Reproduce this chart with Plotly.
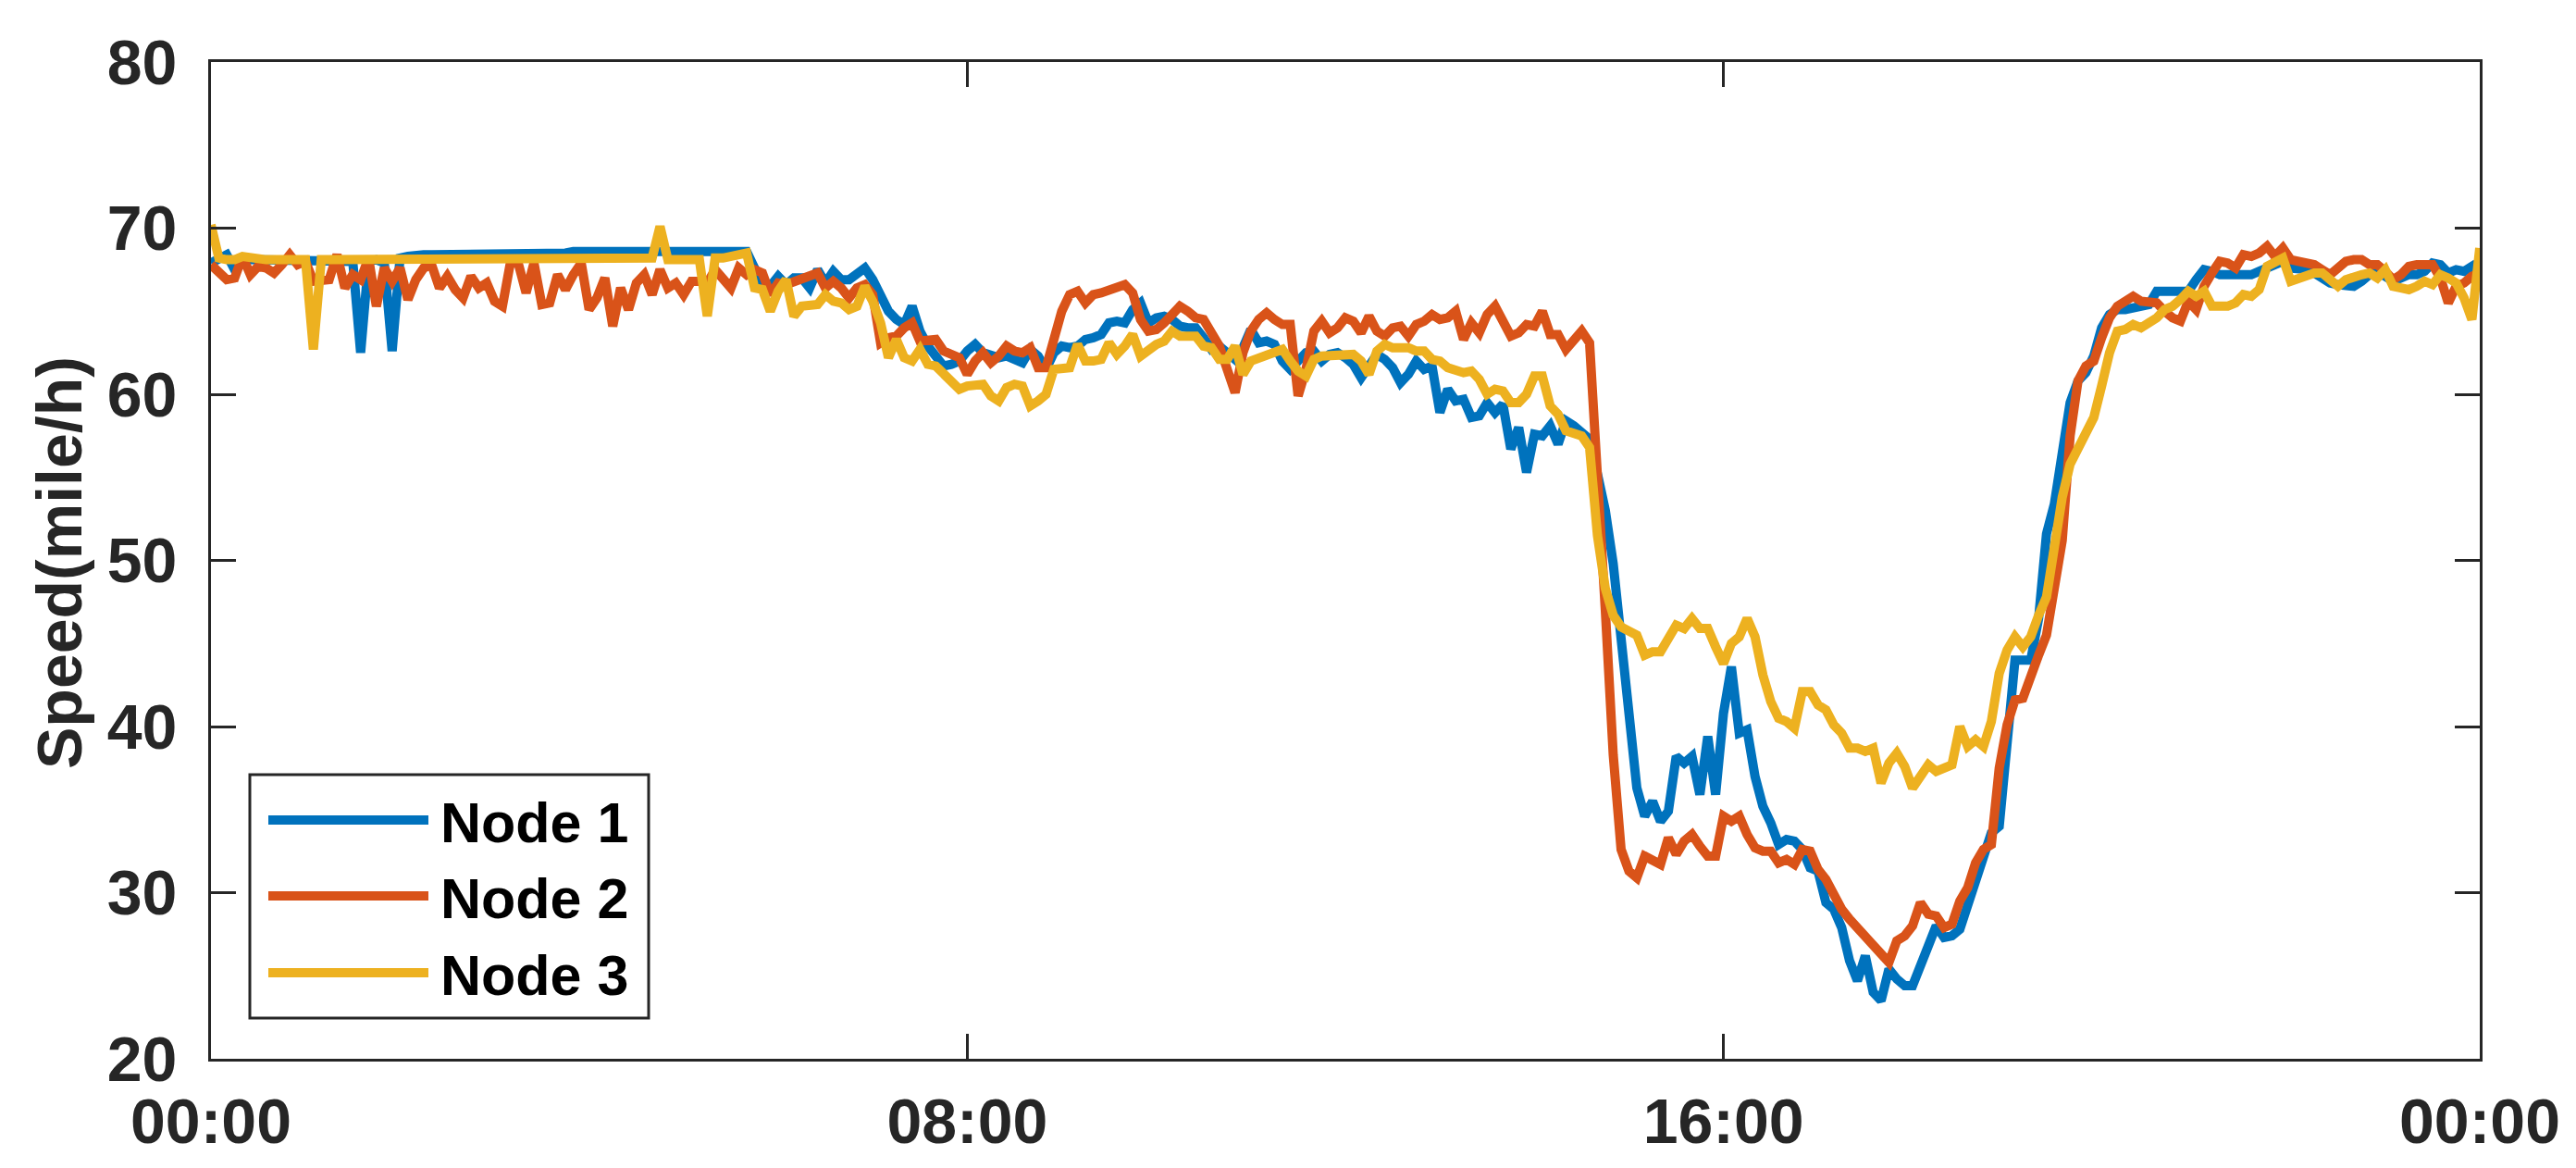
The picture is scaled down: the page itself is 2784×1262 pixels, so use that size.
import plotly.graph_objects as go

# ---------------- data (5-minute samples over one day, 289 points) ----------------
STEP_MIN = 5

node1 = [
    67.9, 68.2, 68.4, 67.5, 68.1, 68.1, 68.1, 68.1, 68.1, 68.1, 68.1, 68.1,
    68.1, 68.1, 68.1, 68.1, 68.1, 68.1, 68.0, 62.5, 68.0, 68.1, 67.9, 62.6,
    68.2, 68.3, 68.4, 68.4, 68.4, 68.4, 68.4, 68.4, 68.4, 68.4, 68.5, 68.5,
    68.5, 68.5, 68.5, 68.5, 68.5, 68.5, 68.5, 68.5, 68.5, 68.5, 68.6, 68.6,
    68.6, 68.6, 68.6, 68.6, 68.6, 68.6, 68.6, 68.6, 68.6, 68.6, 68.6, 68.6,
    68.6, 68.7, 68.6, 68.6, 68.6, 68.6, 68.6, 68.6, 68.6, 67.6, 66.7, 66.5,
    67.1, 66.6, 67.0, 67.0, 66.4, 67.5, 66.7, 67.4, 66.9, 66.9, 67.2, 67.6,
    66.9, 65.8, 65.0, 64.5, 64.2, 65.3, 63.8, 62.9, 62.4, 61.7, 61.8, 62.0,
    62.6, 63.0, 62.5, 62.3, 62.2, 62.3, 62.1, 61.9, 62.7, 62.3, 61.5, 62.5,
    62.9, 62.8, 62.9, 63.3, 63.4, 63.6, 64.3, 64.4, 64.3, 65.1, 65.5, 64.3,
    64.6, 64.7, 64.5, 64.1, 64.0, 64.0, 63.4, 62.7, 62.9, 62.4, 62.1, 62.8,
    63.9, 63.1, 63.2, 63.0, 62.0, 61.5, 62.0, 62.5, 62.6, 62.0, 62.4, 62.5,
    62.2, 61.8, 61.0, 61.8, 62.4, 62.1, 61.6, 60.7, 61.2, 62.0, 61.5, 61.7,
    58.9, 60.3, 59.6, 59.7, 58.6, 58.7, 59.5, 58.9, 59.4, 56.7, 58.0, 55.3,
    57.6, 57.5, 58.1, 57.0, 58.4, 58.1, 57.6, 57.3, 55.2, 53.0, 49.8, 45.3,
    40.8, 36.3, 34.6, 35.5, 34.3, 34.9, 38.2, 37.8, 38.2, 35.9, 39.4, 35.9,
    40.8, 43.6, 39.6, 39.8, 37.0, 35.2, 34.2, 32.9, 33.2, 33.1, 32.6, 31.5,
    31.3, 29.4, 29.0, 27.9, 25.9, 24.7, 26.2, 24.0, 23.5, 25.4, 24.8, 24.4,
    24.4, 25.6, 27.0, 28.0, 27.3, 27.4, 27.8, 29.2, 30.5, 32.1, 33.6, 34.0,
    39.0, 44.0, 44.0, 44.0, 46.5, 51.6, 53.4, 56.5, 59.5, 60.8, 61.3, 62.3,
    64.0, 64.8, 65.1, 65.1, 65.2, 65.3, 65.4, 66.2, 66.2, 66.1, 66.1, 66.2,
    66.9, 67.5, 67.4, 67.2, 67.2, 67.2, 67.1, 67.2, 67.4, 67.6, 67.7, 68.0,
    67.6, 67.6, 67.5, 67.3, 67.0, 66.7, 66.6, 66.6, 66.5, 66.8, 67.2, 67.4,
    67.1, 66.8, 67.0, 67.2, 67.2, 67.4, 67.9, 67.8, 67.3, 67.5, 67.4, 67.7,
    66.8,
]

node2 = [
    67.8, 67.3, 66.9, 67.0, 68.3, 67.2, 67.7, 67.6, 67.3, 67.8, 68.4, 67.8,
    68.0, 66.8, 66.8, 66.9, 68.4, 66.4, 67.2, 66.9, 68.2, 65.3, 67.6, 66.8,
    67.6, 65.7, 66.9, 67.6, 67.8, 66.4, 67.1, 66.3, 65.8, 67.1, 66.4, 66.7,
    65.6, 65.3, 67.9, 67.9, 66.1, 67.9, 65.4, 65.5, 67.2, 66.3, 67.2, 67.9,
    65.1, 65.8, 67.0, 64.1, 66.4, 65.1, 66.7, 67.2, 66.0, 67.5, 66.4, 66.7,
    66.0, 66.8, 66.8, 66.7, 67.5, 67.0, 66.4, 67.6, 67.2, 67.5, 67.3, 66.0,
    66.7, 66.6, 66.8, 67.0, 67.2, 67.3, 66.4, 66.8, 66.4, 65.8, 66.4, 66.6,
    66.0, 63.1, 63.4, 63.5, 64.0, 64.3, 63.2, 63.3, 63.3, 62.6, 62.4, 62.2,
    61.2, 62.0, 62.5, 61.9, 62.3, 62.9, 62.6, 62.5, 62.8, 61.6, 61.6, 63.6,
    65.0, 66.0, 66.2, 65.5, 66.0, 66.1, 66.3, 66.4, 66.6, 66.1, 64.5, 63.8,
    63.9, 64.3, 64.8, 65.3, 65.0, 64.6, 64.5, 63.8, 62.9, 61.5, 60.1, 62.5,
    63.8, 64.5, 64.9, 64.5, 64.2, 64.2, 59.9, 61.5, 63.8, 64.4, 63.7, 64.0,
    64.6, 64.4, 63.7, 64.7, 63.8, 63.5, 64.0, 64.1, 63.5, 64.2, 64.4, 64.8,
    64.5, 64.6, 65.0, 63.3, 64.3, 63.7, 64.8, 65.3, 64.5, 63.5, 63.7, 64.2,
    64.1, 65.0, 63.6, 63.6, 62.7, 63.2, 63.8, 63.1, 56.0, 47.0, 38.3, 32.6,
    31.3, 30.9, 32.2, 32.0, 31.7, 33.3, 32.3, 33.1, 33.5, 32.8, 32.2, 32.2,
    34.6, 34.3, 34.6, 33.5, 32.7, 32.5, 32.5, 31.8, 32.0, 31.7, 32.6, 32.5,
    31.4, 30.8, 29.8, 29.0, 28.4, 27.9, 27.2, 26.7, 26.3, 25.8, 27.1, 27.4,
    28.0, 29.4, 28.7, 28.6, 27.9, 28.1, 29.5, 30.3, 31.8, 32.6, 32.9, 37.5,
    40.1, 41.6, 41.7, 43.2, 44.3, 45.5, 48.5, 51.2, 57.5, 60.8, 61.7, 62.0,
    63.4, 64.6, 65.3, 65.6, 65.9, 65.6, 65.5, 65.5, 65.0, 64.6, 64.4, 65.6,
    65.1, 66.5, 67.3, 68.0, 67.9, 67.6, 68.4, 68.3, 68.5, 68.9, 68.3, 68.8,
    68.1, 68.0, 67.8, 67.8, 67.5, 67.2, 67.6, 68.0, 68.1, 68.1, 67.8, 67.8,
    67.4, 66.9, 67.2, 67.7, 67.8, 67.8, 67.8, 67.0, 65.5, 66.5, 66.7, 67.1,
    67.3,
]

node3 = [
    70.2, 68.2, 68.1, 68.1, 68.3, 68.2, 68.1, 68.1, 68.1, 68.1, 68.1, 68.1,
    68.1, 62.7, 68.1, 68.1, 68.1, 68.1, 68.1, 68.1, 68.1, 68.1, 68.1, 68.1,
    68.1, 68.1, 68.2, 68.2, 68.2, 68.2, 68.2, 68.2, 68.2, 68.2, 68.2, 68.2,
    68.2, 68.2, 68.2, 68.2, 68.2, 68.2, 68.2, 68.2, 68.2, 68.2, 68.2, 68.2,
    68.2, 68.2, 68.2, 68.2, 68.2, 68.2, 68.2, 68.2, 68.2, 70.1, 68.1, 68.1,
    68.1, 68.1, 68.1, 64.7, 68.2, 68.2, 68.3, 68.4, 68.5, 66.4, 66.3, 65.0,
    66.2, 66.9, 64.7, 65.3, 65.4, 65.4, 66.0, 65.6, 65.5, 65.1, 65.3, 66.5,
    65.6, 64.3, 62.2, 63.3, 62.2, 62.0, 62.7, 61.8, 61.7, 61.2, 60.8, 60.3,
    60.5, 60.5, 60.6, 59.9, 59.6, 60.4, 60.6, 60.5, 59.3, 59.6, 60.0, 61.5,
    61.5, 61.6, 63.0, 62.0, 62.0, 62.1, 63.1, 62.4, 62.9, 63.6, 62.3, 62.7,
    63.0, 63.2, 63.8, 63.5, 63.5, 63.5, 62.9, 62.8, 62.1, 62.1, 62.9, 61.2,
    62.0, 62.2, 62.4, 62.6, 62.7, 62.0, 61.4, 61.1, 62.1, 62.3, 62.3, 62.3,
    62.3, 62.4, 62.0, 61.2, 62.6, 63.0, 62.8, 62.8, 62.8, 62.6, 62.6, 62.1,
    62.0, 61.6, 61.5, 61.3, 61.4, 60.9, 60.0, 60.3, 60.2, 59.5, 59.5, 60.0,
    61.1, 61.1, 59.3, 58.8, 57.8, 57.7, 57.5, 56.8, 51.5, 48.3, 46.7, 46.0,
    45.8, 45.5, 44.3, 44.5, 44.5, 45.3, 46.1, 45.9, 46.5, 45.9, 45.9, 44.8,
    43.8, 45.0, 45.4, 46.5, 45.4, 43.1, 41.5, 40.5, 40.3, 39.9, 42.1, 42.1,
    41.3, 41.0, 40.1, 39.6, 38.7, 38.7, 38.5, 38.7, 36.6, 37.8, 38.4, 37.6,
    36.3, 37.0, 37.7, 37.3, 37.5, 37.7, 40.0, 38.8, 39.2, 38.8, 40.3, 43.2,
    44.6, 45.4, 44.8, 45.4, 46.7, 47.8, 50.8, 53.8, 55.8, 56.8, 57.7, 58.6,
    60.5, 62.5, 63.8, 63.9, 64.2, 64.0, 64.3, 64.6, 65.1, 65.3, 65.7, 66.2,
    65.9, 66.2, 65.3, 65.3, 65.3, 65.5, 66.0, 65.9, 66.3, 67.7, 67.9, 68.2,
    66.8, 67.0, 67.2, 67.3, 67.3, 66.8, 66.5, 66.9, 67.1, 67.2, 67.3, 67.0,
    67.5, 66.5, 66.4, 66.3, 66.5, 66.8, 66.6, 67.2, 67.0, 66.7, 65.8, 64.5,
    68.8,
]

series_names = ["Node 1", "Node 2", "Node 3"]
series_colors = ["#0072BD", "#D95319", "#EDB120"]
tick_hours = [0, 8, 16, 24]
tick_labels = ["00:00", "08:00", "16:00", "00:00"]
y_ticks = [20, 30, 40, 50, 60, 70, 80]
y_title = "Speed(mile/h)"

# ---------------- figure ----------------
W, H = 2784, 1262
L, R, T, B = 220, 2672, 59, 1136  # plot-area pixel edges
FONT = "Liberation Sans, Arial, Helvetica, sans-serif"
AXC = "#262626"
LW = 10

hours = [i * STEP_MIN / 60.0 for i in range(len(node1))]

fig = go.Figure()
for name, vals, col in zip(series_names, [node1, node2, node3], series_colors):
    fig.add_trace(go.Scatter(x=hours, y=vals, mode="lines", name=name,
                             line=dict(color=col, width=LW),
                             showlegend=False))

axis_common = dict(showline=True, linecolor=AXC, linewidth=3, mirror="ticks",
                   ticks="inside", ticklen=27, tickwidth=3, tickcolor=AXC,
                   showgrid=False, zeroline=False,
                   tickfont=dict(family=FONT, size=68, color=AXC, weight="bold"))

fig.update_xaxes(range=[0, 24], tickmode="array", tickvals=tick_hours,
                 ticktext=tick_labels, ticklabelstandoff=6, **axis_common)
fig.update_yaxes(range=[20, 80], tickmode="array", tickvals=y_ticks,
                 ticklabelstandoff=20, **axis_common)


def px(X):
    return (X - L) / (R - L)


def py(Y):
    return (B - Y) / (B - T)


shapes = [dict(type="rect", xref="paper", yref="paper",
               x0=px(262), x1=px(693), y0=py(1092), y1=py(829),
               line=dict(color=AXC, width=3), fillcolor="white", layer="above")]
annotations = []
row_y = [878, 960, 1043]
for name, col, yy in zip(series_names, series_colors, row_y):
    shapes.append(dict(type="line", xref="paper", yref="paper",
                       x0=px(282), x1=px(455), y0=py(yy), y1=py(yy),
                       line=dict(color=col, width=LW), layer="above"))
    annotations.append(dict(text=name, xref="paper", yref="paper",
                            x=px(466), y=py(yy + 3), xanchor="left", yanchor="middle",
                            showarrow=False,
                            font=dict(family=FONT, size=61, color="black", weight="bold")))

annotations.append(dict(text=y_title, xref="paper", yref="paper",
                        x=px(56), y=py(600), xanchor="center", yanchor="middle",
                        textangle=-90, showarrow=False,
                        font=dict(family=FONT, size=68, color=AXC, weight="bold")))

fig.update_layout(width=W, height=H, paper_bgcolor="white", plot_bgcolor="white",
                  margin=dict(l=L, r=W - R, t=T, b=H - B),
                  shapes=shapes, annotations=annotations, showlegend=False)

fig.write_html("out.html")
